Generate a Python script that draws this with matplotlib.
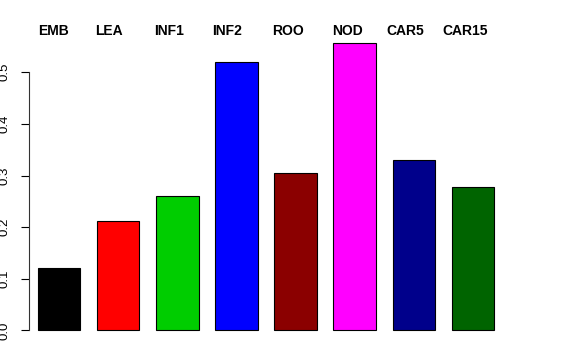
import numpy as np
import matplotlib.pyplot as plt
import matplotlib.transforms as mtransforms

plt.rcParams['font.family'] = ['Liberation Sans', 'DejaVu Sans']

tissues = ['EMB', 'LEA', 'INF1', 'INF2', 'ROO', 'NOD', 'CAR5', 'CAR15']
values = [0.120, 0.212, 0.260, 0.520, 0.305, 0.557, 0.330, 0.277]
colors = ['black', 'red', '#00CD00', 'blue', '#8B0000', 'magenta', '#00008B', '#006400']

fig = plt.figure(figsize=(5.76, 3.6), dpi=100)
ax = fig.add_axes([29 / 576, 19 / 360, 474 / 576, 310 / 360])

x = np.arange(len(tissues))
w = 0.72
ax.bar(x, values, width=w, color=colors, edgecolor='black', linewidth=0.8)

ax.set_xlim(-0.507, len(tissues) - 0.493)
ax.set_ylim(-0.0205, 0.58)

for s in ['top', 'right', 'bottom']:
    ax.spines[s].set_visible(False)
ax.spines['left'].set_bounds(0, 0.5)
ax.spines['left'].set_color('#333333')
ax.set_xticks([])
ax.set_yticks([0.0, 0.1, 0.2, 0.3, 0.4, 0.5])
ax.set_yticklabels(['0.0', '0.1', '0.2', '0.3', '0.4', '0.5'], rotation=90, va='center')
ax.tick_params(axis='y', length=6, width=0.8, pad=7, labelsize=9.5)

# names across the top, roughly left-aligned with each bar
trans = mtransforms.blended_transform_factory(ax.transData, fig.transFigure)
shift = [0, -0.03, -0.03, -0.05, -0.03, -0.02, -0.1, -0.15]
for i, name in enumerate(tissues):
    ax.text(i - w / 2 + shift[i], 0.903, name, transform=trans,
            ha='left', va='baseline', fontsize=10, fontweight='bold')

fig.savefig('out.png', dpi=100)
